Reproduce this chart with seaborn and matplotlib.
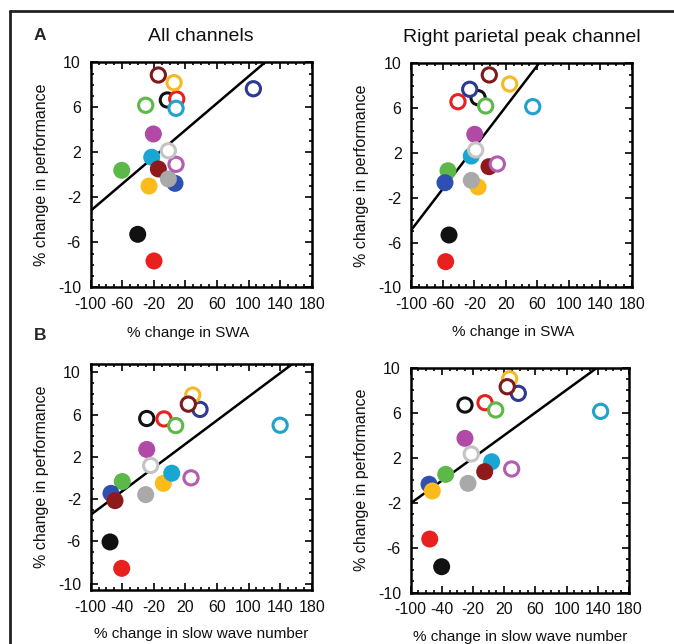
import numpy as np
import pandas as pd
import matplotlib
matplotlib.use('Agg')
import matplotlib.pyplot as plt
import seaborn as sns
from matplotlib.lines import Line2D

# ---------------- data ----------------
subjects = ['black', 'red', 'green', 'blue', 'yellow', 'cyan', 'magenta', 'maroon', 'gray']
filled_colors = ['#111111', '#e8211f', '#5cb848', '#2f4fb3', '#fbbb1a', '#19a6d2', '#b04aa6', '#8e1a1c', '#a9a9a9']
open_colors = ['#111111', '#e8211f', '#5cb848', '#2b3a92', '#f7b824', '#1fa2cc', '#b35db0', '#7e1a1c', '#c4c4c4']

# Panel A, all channels (% change in SWA)
a1_filled_x = [-40.4, -19.8, -60.7, 6.8, -26.1, -22.7, -20.6, -14.3, -1.6]
a1_filled_y = [-5.29, -7.66, 0.40, -0.76, -1.00, 1.56, 3.63, 0.52, -0.37]
a1_open_x = [-2.9, 9.0, -30.3, 106.1, 5.6, 8.1, 8.1, -14.3, -1.6]
a1_open_y = [6.65, 6.74, 6.18, 7.65, 8.19, 5.91, 0.93, 8.87, 2.14]

# Panel A, right parietal peak channel (% change in SWA)
a2_filled_x = [-52.1, -56.3, -53.4, -57.2, -15.2, -23.8, -19.4, -1.3, -23.8]
a2_filled_y = [-5.33, -7.71, 0.41, -0.66, -1.04, 1.72, 3.66, 0.77, -0.45]
a2_open_x = [-15.2, -40.7, -5.5, -25.8, 25.0, 54.3, 9.3, -0.9, -18.2]
a2_open_y = [6.93, 6.57, 6.19, 7.68, 8.15, 6.13, 1.01, 8.96, 2.26]

# Panel B, all channels (% change in slow wave number)
b1_filled_x = [-75.5, -60.7, -60.0, -74.3, -8.0, 2.7, -29.0, -69.2, -30.3]
b1_filled_y = [-6.05, -8.55, -0.33, -1.45, -0.50, 0.46, 2.71, -2.14, -1.57]
b1_open_x = [-29.0, -7.1, 7.7, 38.5, 29.3, 140.0, 27.1, 23.7, -24.0]
b1_open_y = [5.64, 5.60, 4.97, 6.50, 7.86, 5.00, 0.02, 7.00, 1.19]

# Panel B, right parietal peak channel (% change in slow wave number)
b2_filled_x = [-60.3, -75.6, -55.1, -76.5, -72.3, 3.8, -30.4, -5.1, -26.5]
b2_filled_y = [-7.69, -5.23, 0.52, -0.36, -0.96, 1.64, 3.72, 0.76, -0.28]
b2_open_x = [-30.4, -4.7, 9.0, 38.0, 26.9, 143.6, 29.5, 23.8, -22.3]
b2_open_y = [6.68, 6.89, 6.24, 7.72, 9.02, 6.12, 1.00, 8.31, 2.33]

# regression lines (slope, intercept)
fit_slopes = [0.0597, 0.0917, 0.0559, 0.0504]
fit_intercepts = [2.78, 4.29, 2.11, 2.99]

panel_titles = ['All channels', 'Right parietal peak channel']
xlabels = ['% change in SWA', '% change in slow wave number']
ylabel = '% change in performance'
xtick_values = [-100, -60, -20, 20, 60, 100, 140, 180]
xtick_labels_a = ['-100', '-60', '-20', '20', '60', '100', '140', '180']
xtick_labels_b = ['-100', '-40', '-20', '20', '60', '100', '140', '180']
ytick_values = [-10, -6, -2, 2, 6, 10]
ytick_labels = ['-10', '-6', '-2', '2', '6', '10']

# ---------------- build table ----------------
rows = []
panels = {
    'a1': (a1_filled_x, a1_filled_y, a1_open_x, a1_open_y),
    'a2': (a2_filled_x, a2_filled_y, a2_open_x, a2_open_y),
    'b1': (b1_filled_x, b1_filled_y, b1_open_x, b1_open_y),
    'b2': (b2_filled_x, b2_filled_y, b2_open_x, b2_open_y),
}
for p, (fx, fy, ox, oy) in panels.items():
    for s, x, y in zip(subjects, fx, fy):
        rows.append(dict(panel=p, group='filled', subject=s, x=x, y=y))
    for s, x, y in zip(subjects, ox, oy):
        rows.append(dict(panel=p, group='open', subject=s, x=x, y=y))
df = pd.DataFrame(rows)

# ---------------- style ----------------
sns.set_theme(style='ticks')
plt.rcParams['font.family'] = ['Liberation Sans', 'DejaVu Sans']
plt.rcParams['axes.unicode_minus'] = False

W, H = 674, 644
fig = plt.figure(figsize=(W / 100, H / 100), dpi=100)
fig.patch.set_facecolor('white')

def frac(left, top, right, bottom):
    return [left / W, 1 - bottom / H, (right - left) / W, (bottom - top) / H]

axes_px = {
    'a1': (90.7, 62.3, 311.7, 287.3),
    'a2': (411.3, 63.3, 631.7, 287.3),
    'b1': (90.7, 364.0, 311.7, 590.0),
    'b2': (410.7, 367.7, 629.0, 592.7),
}
ylims = {'a1': (-10, 10), 'a2': (-10, 10), 'b1': (-10.6, 10.8), 'b2': (-10, 10)}
pal_f = dict(zip(subjects, filled_colors))
pal_o = dict(zip(subjects, open_colors))

for i, p in enumerate(['a1', 'a2', 'b1', 'b2']):
    ax = fig.add_axes(frac(*axes_px[p]))
    d = df[df.panel == p]
    ax.axline((0, fit_intercepts[i]), slope=fit_slopes[i], color='black', lw=1.8, zorder=2)
    sns.scatterplot(data=d[d.group == 'filled'], x='x', y='y', hue='subject',
                    hue_order=subjects, palette=pal_f, s=150, linewidth=0,
                    legend=False, ax=ax, zorder=3)
    sns.scatterplot(data=d[d.group == 'open'], x='x', y='y', hue='subject',
                    hue_order=subjects, palette=pal_o, s=105, linewidth=0,
                    legend=False, ax=ax, zorder=4)
    coll = ax.collections[-1]
    cols = coll.get_facecolors()
    coll.set_edgecolors(cols)
    coll.set_facecolors('white')
    coll.set_linewidths(2.2)

    ax.set_xlim(-100, 180)
    ax.set_ylim(*ylims[p])
    labs = xtick_labels_a if p.startswith('a') else xtick_labels_b
    ax.set_xticks(xtick_values, labels=labs)
    ax.set_yticks(ytick_values, labels=ytick_labels)
    ax.xaxis.set_minor_locator(matplotlib.ticker.MultipleLocator(10))
    ax.yaxis.set_minor_locator(matplotlib.ticker.MultipleLocator(1))
    ax.tick_params(which='both', direction='in', top=True, right=True,
                   width=1.2, color='black', labelsize=11.5, labelcolor='#111111')
    ax.tick_params(which='major', length=5, pad=7)
    ax.tick_params(which='minor', length=2.5)
    for sp in ax.spines.values():
        sp.set_linewidth(1.8)
        sp.set_color('black')
        sp.set_visible(True)
    ax.set_xlabel(xlabels[0] if p.startswith('a') else xlabels[1], fontsize=11, color='#111111')
    ax.set_ylabel(ylabel, fontsize=11.5, color='#111111')
    ax.yaxis.set_label_coords(-0.19, 0.5)
    if p == 'a1':
        ax.xaxis.set_label_coords(0.44, -0.17)
    elif p == 'a2':
        ax.xaxis.set_label_coords(0.46, -0.17)
    else:
        ax.xaxis.set_label_coords(0.5, -0.165)
    ax.set_facecolor('white')
    if p in ('a1', 'a2'):
        ax.set_title(panel_titles[0] if p == 'a1' else panel_titles[1],
                     fontsize=14, pad=15, color='#111111')

fig.text(40 / W, 1 - 35 / H, 'A', fontsize=12.5, fontweight='bold', ha='center', va='center')
fig.text(40 / W, 1 - 336 / H, 'B', fontsize=12.5, fontweight='bold', ha='center', va='center')

# figure frame (top and left edges visible)
fig.add_artist(Line2D([10 / W, 10 / W], [0, 1 - 11 / H], transform=fig.transFigure, color='#222222', lw=2))
fig.add_artist(Line2D([10 / W, 1], [1 - 11 / H, 1 - 11 / H], transform=fig.transFigure, color='#222222', lw=2))

fig.savefig('out.png', dpi=100, facecolor='white')
